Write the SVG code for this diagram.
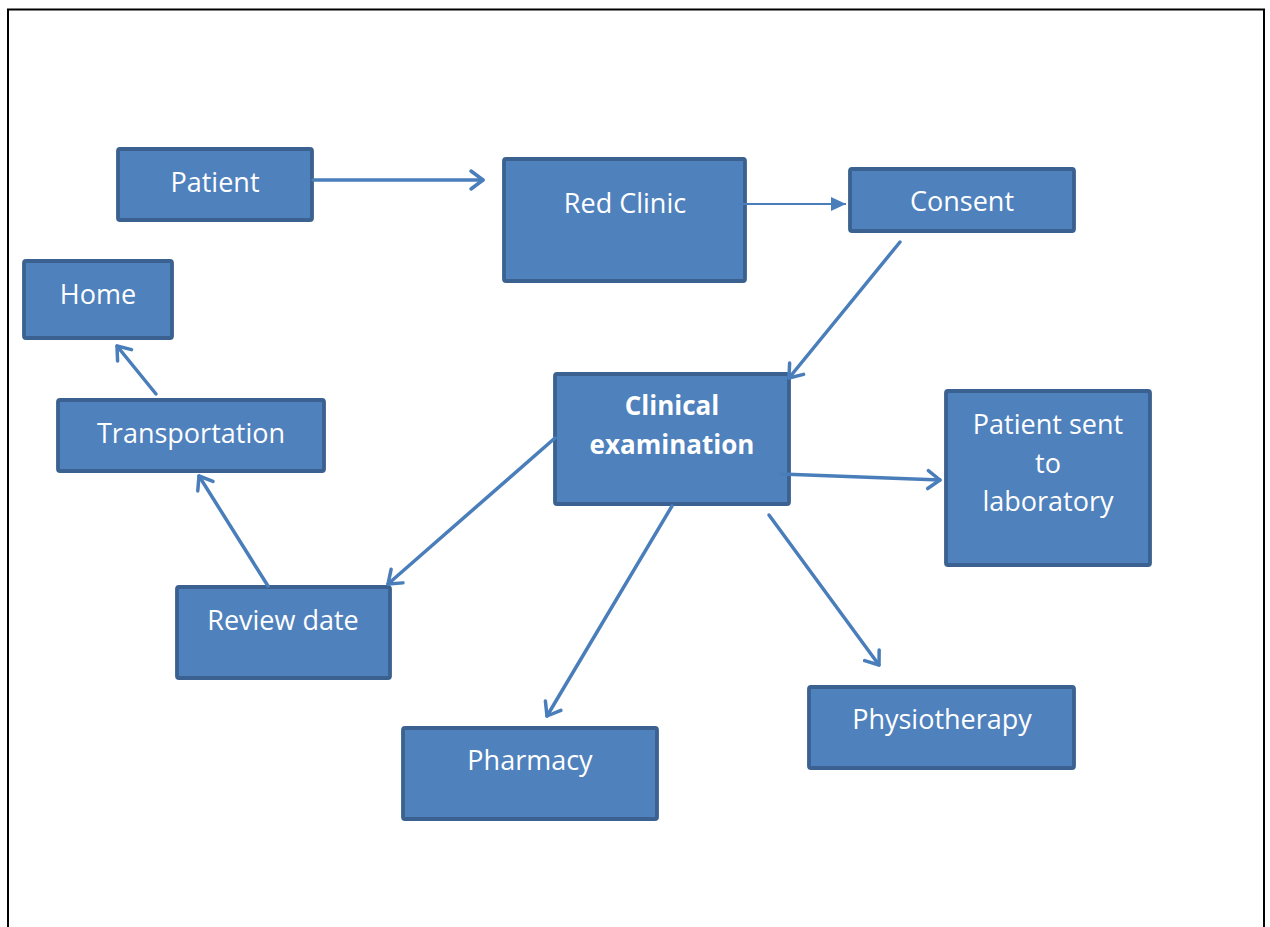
<svg xmlns="http://www.w3.org/2000/svg" width="1270" height="927" viewBox="0 0 1270 927">
<style>
.box{fill:#4f81bd;stroke:#3a6190;stroke-width:3.8}
.t{font-family:"Open Sans","Liberation Sans",sans-serif;font-size:27px;fill:#ffffff;text-anchor:middle}
.b{font-weight:bold;font-size:26px}
.c{stroke:#4a7ebb;stroke-width:3.5;fill:none;stroke-linecap:round}
.c2{stroke:#4a7ebb;stroke-width:2.2;fill:none}
</style>
<defs>
<marker id="open" markerUnits="userSpaceOnUse" viewBox="-16 -12 20 24" refX="0" refY="0" markerWidth="20" markerHeight="24" orient="auto" overflow="visible">
<path d="M-12,-9 L0,0 L-12,9" fill="none" stroke="#4a7ebb" stroke-width="3.5" stroke-linecap="round" stroke-linejoin="round"/>
</marker>
<marker id="fill" markerUnits="userSpaceOnUse" viewBox="-16 -10 18 20" refX="0" refY="0" markerWidth="18" markerHeight="20" orient="auto" overflow="visible">
<path d="M-15,-7 L0,0 L-15,7 Z" fill="#4a7ebb"/>
</marker>
</defs>
<rect x="0" y="0" width="1270" height="927" fill="#ffffff"/>
<path d="M8,935 V9.5 H1264 V935" fill="none" stroke="#000000" stroke-width="2"/>
<g id="patient"><rect class="box" x="118" y="149" width="194" height="71" rx="2"/><text class="t" x="215" y="192">Patient</text></g>
<g id="red-clinic"><rect class="box" x="504" y="159" width="241" height="122" rx="2"/><text class="t" x="625" y="213">Red Clinic</text></g>
<g id="consent"><rect class="box" x="850" y="169" width="224" height="62" rx="2"/><text class="t" x="962" y="211">Consent</text></g>
<g id="home"><rect class="box" x="24" y="261" width="148" height="77" rx="2"/><text class="t" x="98" y="304">Home</text></g>
<g id="transportation"><rect class="box" x="58" y="400" width="266" height="71" rx="2"/><text class="t" x="191" y="443">Transportation</text></g>
<g id="clinical-examination"><rect class="box" x="555" y="374" width="234" height="130" rx="2"/><text class="t b" x="672" y="415">Clinical</text><text class="t b" x="672" y="454">examination</text></g>
<g id="laboratory"><rect class="box" x="946" y="391" width="204" height="174" rx="2"/><text class="t" x="1048" y="434">Patient sent</text><text class="t" x="1048" y="473">to</text><text class="t" x="1048" y="511">laboratory</text></g>
<g id="review-date"><rect class="box" x="177" y="587" width="213" height="91" rx="2"/><text class="t" x="283" y="630">Review date</text></g>
<g id="pharmacy"><rect class="box" x="403" y="728" width="254" height="91" rx="2"/><text class="t" x="530" y="770">Pharmacy</text></g>
<g id="physiotherapy"><rect class="box" x="809" y="687" width="265" height="81" rx="2"/><text class="t" x="942" y="729">Physiotherapy</text></g>
<g id="connectors">
<line class="c" x1="313" y1="180" x2="483" y2="180" marker-end="url(#open)"/>
<line class="c2" x1="739" y1="204" x2="846" y2="204" marker-end="url(#fill)"/>
<line class="c" x1="900" y1="242" x2="789" y2="378" marker-end="url(#open)"/>
<line class="c" x1="781" y1="474" x2="940" y2="480" marker-end="url(#open)"/>
<line class="c" x1="769" y1="515" x2="879" y2="665" marker-end="url(#open)"/>
<line class="c" x1="672" y1="506" x2="547" y2="716" marker-end="url(#open)"/>
<line class="c" x1="555" y1="438" x2="388" y2="584" marker-end="url(#open)"/>
<line class="c" x1="268" y1="586" x2="199" y2="476" marker-end="url(#open)"/>
<line class="c" x1="156" y1="394" x2="117" y2="346" marker-end="url(#open)"/>
</g>
</svg>
